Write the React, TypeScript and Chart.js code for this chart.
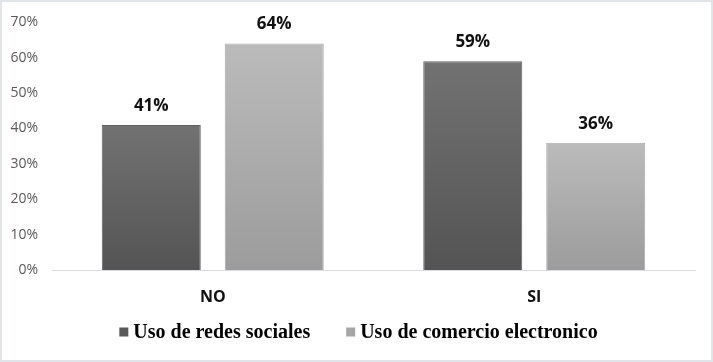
import React, { useEffect, useRef } from "react";
import { Chart, registerables } from "chart.js";

Chart.register(...registerables);

const categories = ["NO", "SI"];
const seriesNames = ["Uso de redes sociales", "Uso de comercio electronico"];
const redesSociales = [41, 59];
const comercioElectronico = [64, 36];
const yTicks = [0, 10, 20, 30, 40, 50, 60, 70];

const gradStops = [
  ["#727272", "#545454"],
  ["#bbbbbb", "#9c9c9c"],
];
const solid = ["#595959", "#a6a6a6"];
const borders = ["#606060", "#a9a9a9"];

function barFill(dsIndex: number) {
  return (ctx: any) => {
    const chart = ctx.chart;
    if (ctx.type !== "data" || !chart.scales || !chart.scales.y) return solid[dsIndex];
    const y = chart.scales.y;
    const v = ctx.raw as number;
    const top = y.getPixelForValue(v);
    const base = y.getPixelForValue(0);
    if (!isFinite(top) || !isFinite(base) || top === base) return solid[dsIndex];
    const g = chart.ctx.createLinearGradient(0, top, 0, base);
    g.addColorStop(0, gradStops[dsIndex][0]);
    g.addColorStop(1, gradStops[dsIndex][1]);
    return g;
  };
}

const frame = {
  id: "frame",
  beforeDraw(chart: any) {
    const c = chart.ctx;
    c.save();
    c.fillStyle = "#ffffff";
    c.fillRect(0, 0, chart.width, chart.height);
    c.strokeStyle = "#e1e5ea";
    c.lineWidth = 2;
    c.strokeRect(1, 1, chart.width - 2, chart.height - 2);
    c.restore();
  },
};

const valueLabels = {
  id: "valueLabels",
  afterDatasetsDraw(chart: any) {
    const c = chart.ctx;
    c.save();
    c.font = "bold 17px 'Open Sans'";
    c.fillStyle = "#111111";
    c.textAlign = "center";
    c.textBaseline = "middle";
    chart.data.datasets.forEach((ds: any, di: number) => {
      const meta = chart.getDatasetMeta(di);
      meta.data.forEach((el: any, i: number) => {
        c.fillText(ds.data[i] + "%", el.x, el.y - 19);
      });
    });
    c.restore();
  },
};

const LEGEND_FONT = "bold 20px 'Liberation Serif'";
const customLegend = {
  id: "customLegend",
  afterDraw(chart: any) {
    const c = chart.ctx;
    c.save();
    c.font = LEGEND_FONT;
    c.textBaseline = "middle";
    c.textAlign = "left";
    const box = 9;
    const gapBoxText = 5;
    const gapItems = 36;
    const items = chart.data.datasets.map((ds: any, i: number) => ({
      text: ds.label,
      color: solid[i],
      w: box + gapBoxText + c.measureText(ds.label).width,
    }));
    const total = items.reduce((a: number, it: any) => a + it.w, 0) + gapItems * (items.length - 1);
    let x = (chart.width - total) / 2 + 2;
    const cy = chart.chartArea.bottom + 62;
    items.forEach((it: any) => {
      c.fillStyle = it.color;
      c.fillRect(x, cy - box / 2, box, box);
      c.fillStyle = "#000000";
      c.fillText(it.text, x + box + gapBoxText, cy + 1);
      x += it.w + gapItems;
    });
    c.restore();
  },
};

export default function App() {
  const ref = useRef<HTMLCanvasElement>(null);
  useEffect(() => {
    if (!ref.current) return;
    const chart = new Chart(ref.current, {
      type: "bar",
      data: {
        labels: categories,
        datasets: [
          {
            label: seriesNames[0],
            data: redesSociales,
            backgroundColor: barFill(0),
            borderColor: borders[0],
            borderWidth: 1,
            categoryPercentage: 0.765,
            barPercentage: 0.805,
          },
          {
            label: seriesNames[1],
            data: comercioElectronico,
            backgroundColor: barFill(1),
            borderColor: borders[1],
            borderWidth: 1,
            categoryPercentage: 0.765,
            barPercentage: 0.805,
          },
        ],
      },
      options: {
        animation: false,
        responsive: false,
        layout: { padding: { top: 19, right: 18, left: 0, bottom: 52 } },
        scales: {
          y: {
            min: 0,
            max: 70,
            afterFit: (s: any) => {
              s.width = 52;
            },
            afterBuildTicks: (s: any) => {
              s.ticks = yTicks.map((v) => ({ value: v }));
            },
            grid: { display: false, drawTicks: false },
            border: { display: false },
            ticks: {
              padding: 14,
              color: "#595959",
              font: { family: "'Open Sans'", size: 14 },
              callback: (v: any) => v + "%",
            },
          },
          x: {
            afterFit: (s: any) => {
              s.height = 40;
            },
            grid: { display: false, drawTicks: false },
            border: { display: true, color: "#d9dde3", width: 1 },
            ticks: {
              padding: 18,
              color: "#111111",
              font: { family: "'Open Sans'", size: 16, weight: "bold" },
            },
          },
        },
        plugins: {
          legend: { display: false },
          tooltip: { enabled: false },
        },
      },
      plugins: [frame, valueLabels, customLegend],
    });
    return () => chart.destroy();
  }, []);
  return (
    <div style={{ position: "absolute", left: 0, top: 0, width: 713, height: 362 }}>
      <canvas ref={ref} width={713} height={362} />
    </div>
  );
}
